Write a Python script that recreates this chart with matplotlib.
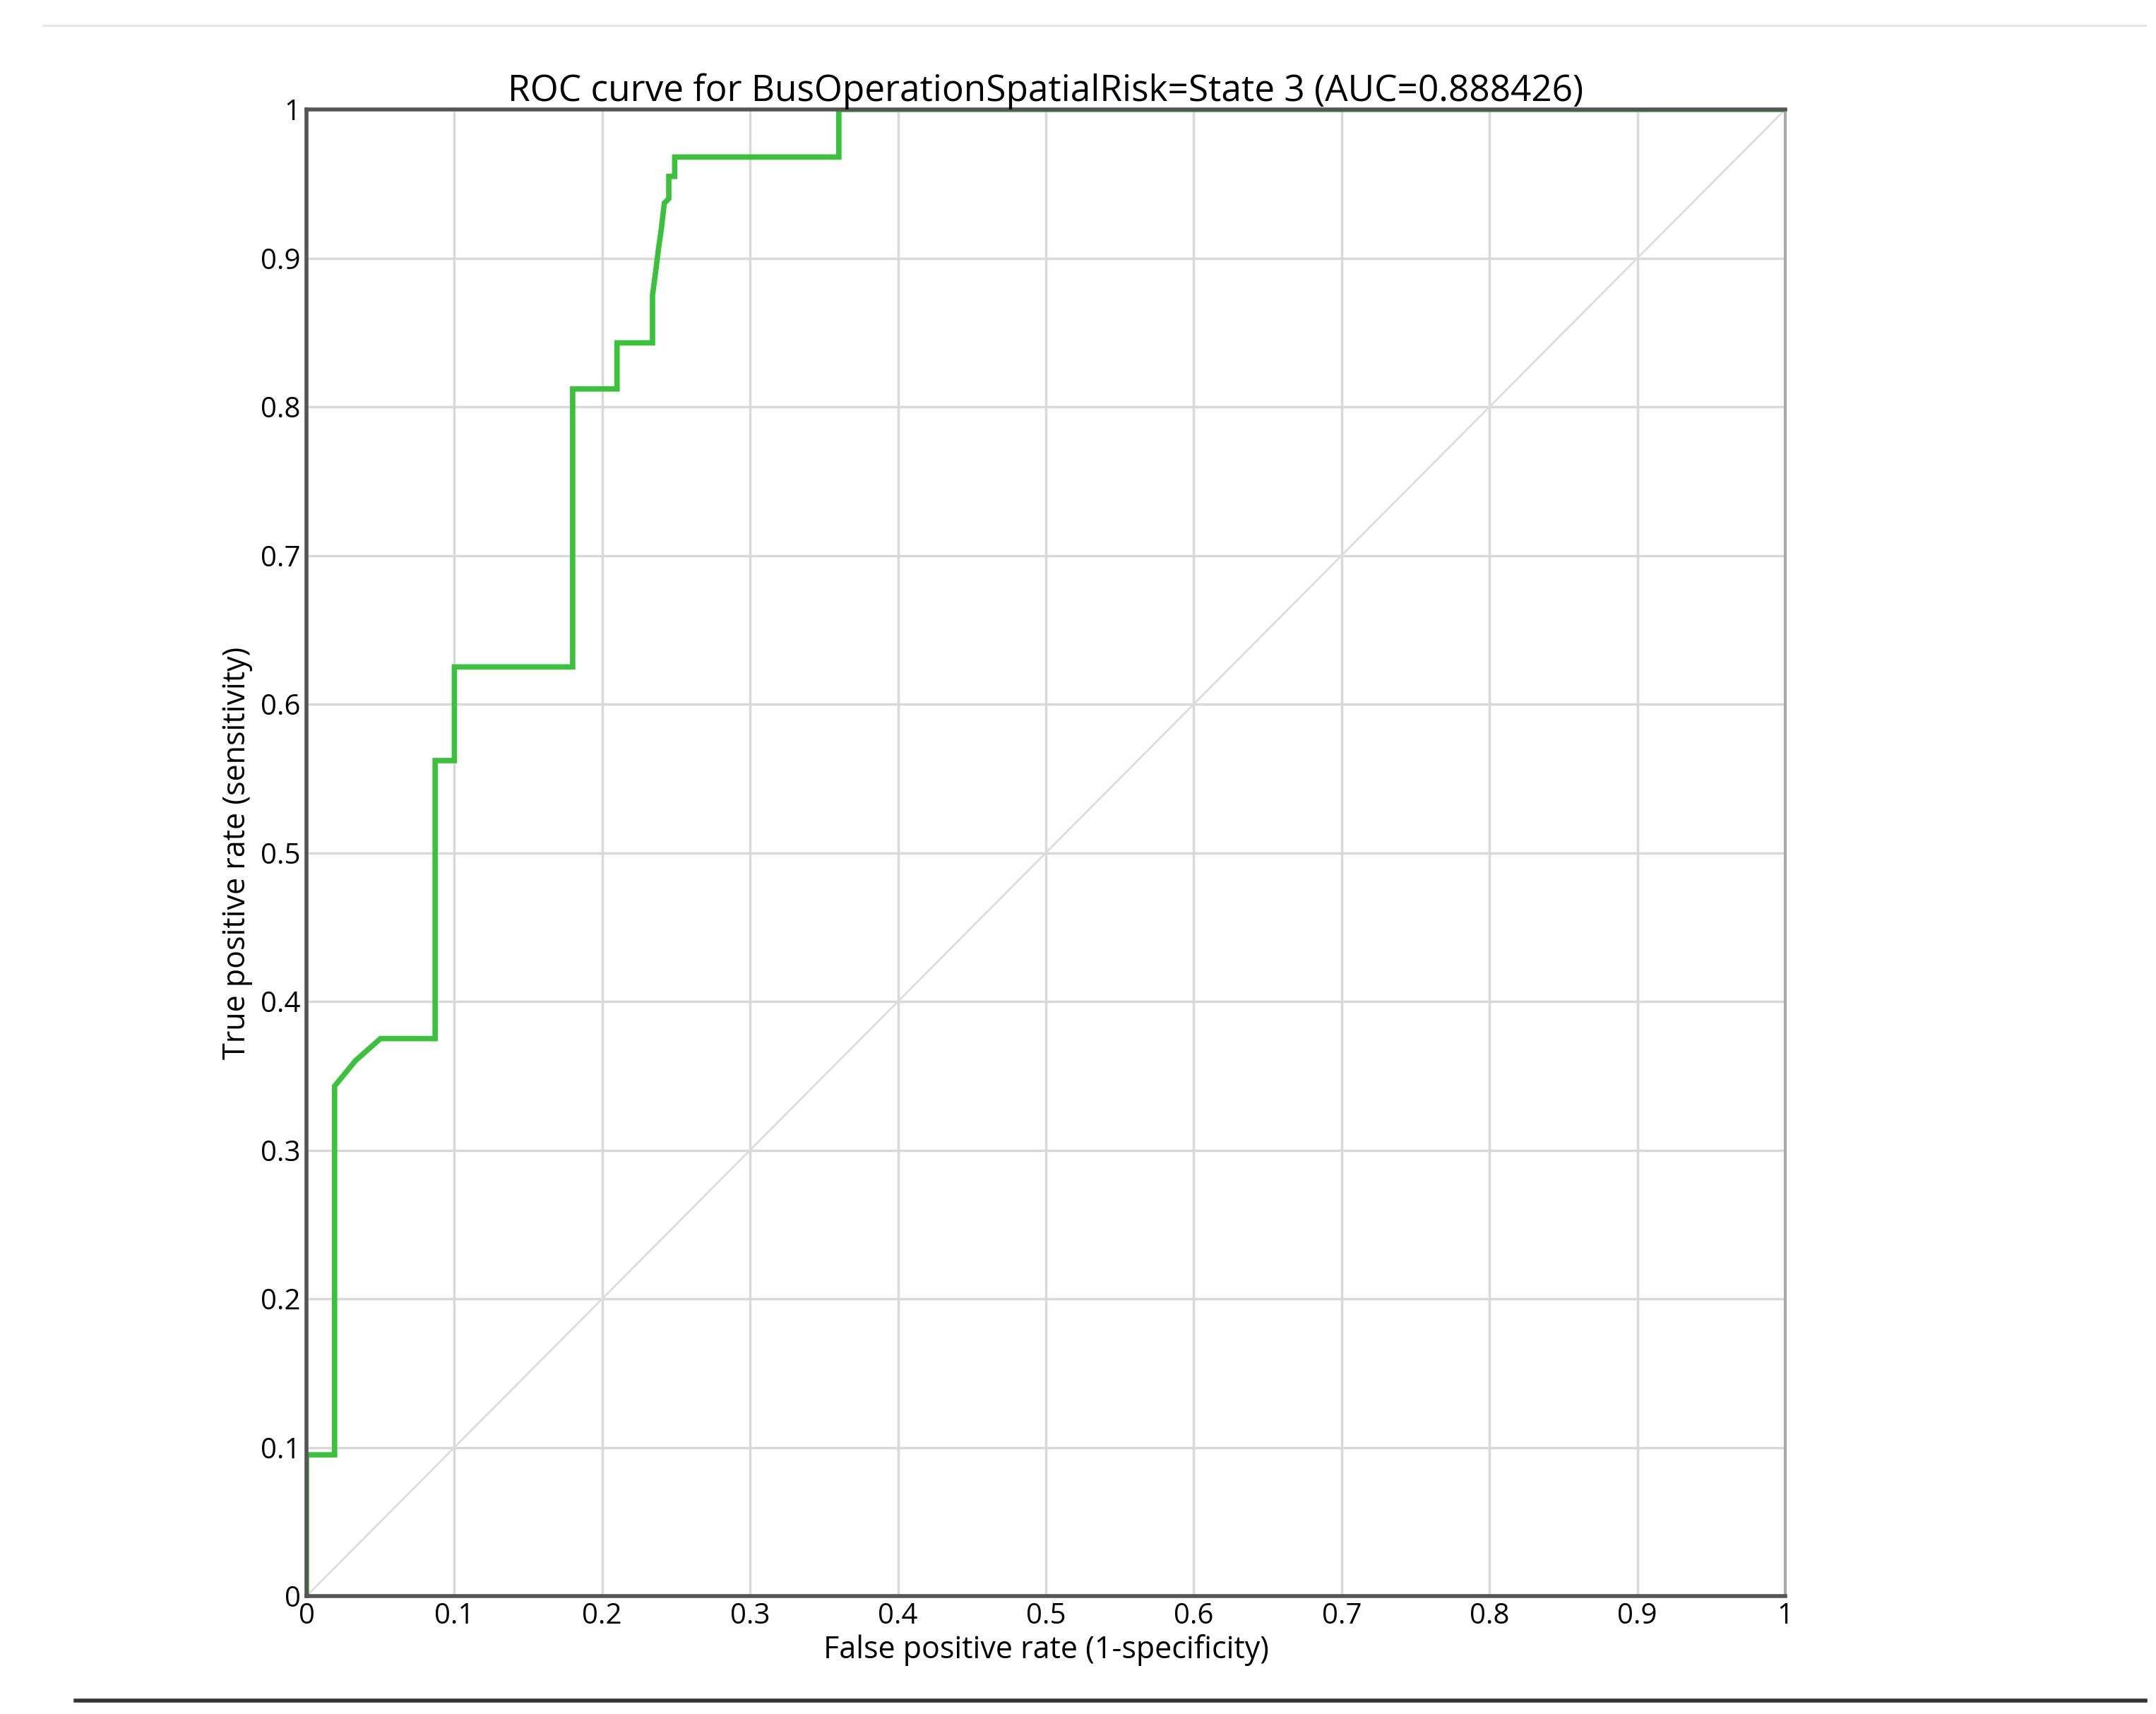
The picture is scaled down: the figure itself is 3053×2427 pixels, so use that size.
import matplotlib
matplotlib.use("Agg")
import matplotlib.pyplot as plt
plt.rcParams['font.family'] = ['Open Sans', 'DejaVu Sans']

fpr = [0, 0, 0.019, 0.019, 0.033, 0.05, 0.087, 0.087, 0.10, 0.10, 0.18, 0.18, 0.21, 0.21,
       0.234, 0.234, 0.236, 0.238, 0.240, 0.242, 0.245, 0.245, 0.249, 0.249, 0.36, 0.36, 1.0]
tpr = [0, 0.095, 0.095, 0.343, 0.36, 0.375, 0.375, 0.562, 0.562, 0.625, 0.625, 0.812, 0.812, 0.843,
       0.843, 0.875, 0.89, 0.906, 0.92, 0.937, 0.94, 0.955, 0.955, 0.968, 0.968, 1.0, 1.0]
ticks = [0, 0.1, 0.2, 0.3, 0.4, 0.5, 0.6, 0.7, 0.8, 0.9, 1]
tick_labels = ["0", "0.1", "0.2", "0.3", "0.4", "0.5", "0.6", "0.7", "0.8", "0.9", "1"]

fig = plt.figure(figsize=(30.53, 24.27), dpi=100)
ax = fig.add_axes([434/3053, 1-2260/2427, (2528-434)/3053, (2260-155)/2427])
ax.set_xlim(0, 1); ax.set_ylim(0, 1)
ax.grid(True, color="#d9d9d9", lw=2.5)
ax.set_axisbelow(True)
ax.plot([0, 1], [0, 1], color="#dddddd", lw=2)
ax.plot(fpr, tpr, color="#3cc13c", lw=5.5, solid_joinstyle="miter")
ax.set_xticks(ticks); ax.set_xticklabels(tick_labels, fontsize=29)
ax.set_yticks(ticks); ax.set_yticklabels(tick_labels, fontsize=29)
ax.tick_params(length=0, pad=6)
for s in ["left", "bottom", "top"]:
    ax.spines[s].set_color("#555555"); ax.spines[s].set_linewidth(4)
ax.spines["right"].set_color("#aaaaaa"); ax.spines["right"].set_linewidth(3)
ax.set_title("ROC curve for BusOperationSpatialRisk=State 3 (AUC=0.888426)", fontsize=37, pad=4)
ax.set_xlabel("False positive rate (1-specificity)", fontsize=31, labelpad=4)
ax.set_ylabel("True positive rate (sensitivity)", fontsize=31, labelpad=8)
fig.add_artist(plt.Line2D([0.035, 0.995], [1-2408/2427]*2, color="#333333", lw=4))
fig.add_artist(plt.Line2D([0.02, 0.995], [1-36/2427]*2, color="#e6e6e6", lw=2))
fig.savefig("out.png", dpi=100, facecolor="white")
